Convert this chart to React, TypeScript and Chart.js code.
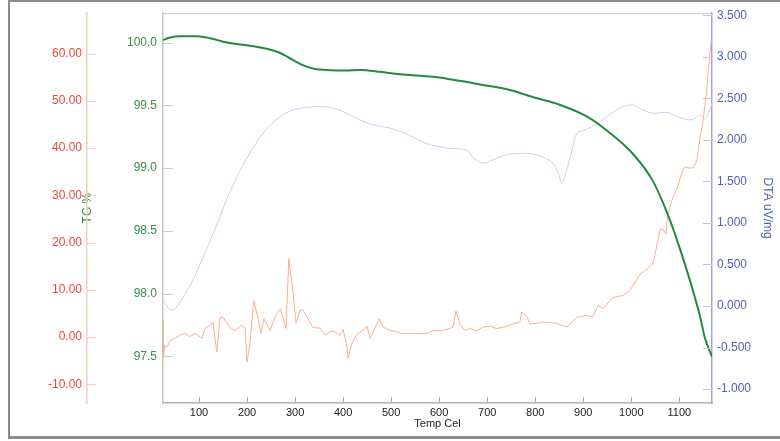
import React, { useEffect, useRef } from "react";
import { Chart, registerables } from "chart.js";

Chart.register(...registerables);

const FONT = '"Liberation Sans", Arial, sans-serif';

// Tick labels
const xTicks = [100, 200, 300, 400, 500, 600, 700, 800, 900, 1000, 1100];
const tgTicks = [97.5, 98.0, 98.5, 99.0, 99.5, 100.0];
const redTicks = [-10, 0, 10, 20, 30, 40, 50, 60];
const dtaTicks = [-1.0, -0.5, 0.0, 0.5, 1.0, 1.5, 2.0, 2.5, 3.0, 3.5];

// TG % (green, left inner axis)
const tgTemp = [25, 40, 60, 96, 123, 158, 196, 233, 269, 296, 316, 341, 366, 404, 435, 477, 518, 587, 643, 685, 747, 800, 852, 908, 956, 1004, 1045, 1081, 1101, 1122, 1143, 1153, 1168];
const tgValues = [100.02, 100.04, 100.05, 100.05, 100.035, 100.0, 99.98, 99.957, 99.917, 99.86, 99.82, 99.79, 99.782, 99.778, 99.782, 99.767, 99.747, 99.727, 99.695, 99.666, 99.622, 99.56, 99.503, 99.41, 99.278, 99.11, 98.896, 98.58, 98.36, 98.105, 97.82, 97.65, 97.496];

// DTA uV/mg (lavender, right axis)
const dtaTemp = [27, 40, 50, 75, 96, 140, 158, 192, 227, 254, 283, 310, 352, 387, 435, 462, 498, 533, 575, 616, 658, 670, 691, 712, 747, 795, 816, 837, 847, 856, 866, 877, 887, 908, 935, 962, 983, 1004, 1024, 1045, 1074, 1095, 1116, 1129, 1143, 1153, 1168];
const dtaValues = [0.06, -0.05, -0.035, 0.18, 0.42, 1.017, 1.29, 1.70, 2.03, 2.21, 2.33, 2.38, 2.40, 2.37, 2.24, 2.18, 2.14, 2.07, 1.95, 1.90, 1.875, 1.79, 1.72, 1.76, 1.83, 1.83, 1.79, 1.72, 1.61, 1.48, 1.65, 1.89, 2.08, 2.13, 2.22, 2.33, 2.40, 2.42, 2.36, 2.32, 2.33, 2.28, 2.245, 2.245, 2.30, 2.25, 2.43];

// Red-axis curve (orange, left outer axis)
const redTemp = [25, 26, 29, 33, 40, 50, 60, 71, 81, 92, 106, 112, 123, 129, 137, 144, 150, 164, 175, 189, 196, 200, 206, 214, 223, 229, 235, 248, 258, 269, 275, 281, 287, 296, 302, 310, 316, 327, 337, 352, 362, 373, 379, 394, 400, 408, 410, 418, 429, 441, 450, 456, 466, 475, 483, 498, 512, 525, 539, 554, 575, 587, 602, 616, 629, 635, 643, 654, 664, 679, 691, 706, 720, 741, 754, 768, 772, 783, 789, 804, 816, 845, 866, 887, 908, 920, 931, 941, 962, 983, 997, 1018, 1033, 1045, 1051, 1060, 1066, 1072, 1076, 1087, 1095, 1106, 1112, 1118, 1129, 1137, 1143, 1149, 1156, 1160, 1166];
const redValues = [3.5, -4.3, -1.7, -2.2, -0.7, -0.3, 0.4, 0.8, 0.1, 0.8, -0.3, 1.8, 2.5, 3.2, -3.2, 4.2, 4.2, 2.1, 1.4, 2.5, 1.8, -5.3, -1.3, 7.7, 3.9, 0.8, 3.9, 1.4, 4.2, 6.0, 4.2, 1.8, 16.6, 9.2, 2.9, 5.6, 5.8, 3.9, 2.0, 1.9, 0.4, 1.1, 1.3, 0.4, 1.6, -2.1, -4.5, -1.4, 0.7, 1.4, 2.3, -0.3, 1.8, 3.9, 2.1, 1.4, 1.1, 0.7, 0.8, 0.7, 0.8, 1.4, 1.3, 1.6, 2.1, 5.5, 2.8, 1.4, 1.8, 1.3, 2.1, 2.3, 1.8, 2.3, 2.8, 3.2, 5.3, 4.2, 2.8, 2.9, 3.2, 2.9, 2.1, 4.2, 4.6, 4.2, 6.7, 6.0, 8.4, 8.8, 9.8, 13.3, 14.4, 15.5, 18.3, 22.8, 22.8, 21.8, 26.0, 29.8, 31.3, 35.1, 36.1, 35.8, 35.8, 37.6, 42.1, 45.6, 51.2, 56.1, 62.5];

const toPoints = (xs: number[], ys: number[]) => xs.map((x, i) => ({ x, y: ys[i] }));

const setTicks = (vals: number[]) => (scale: any) => {
  scale.ticks = vals.map((v) => ({ value: v }));
};

const decorations = {
  id: "decorations",
  afterDraw(chart: any) {
    const { ctx, chartArea: a, scales } = chart;
    ctx.save();
    ctx.lineWidth = 1;
    const seg = (x1: number, y1: number, x2: number, y2: number) => {
      ctx.beginPath();
      ctx.moveTo(x1, y1);
      ctx.lineTo(x2, y2);
      ctx.stroke();
    };
    // top frame line
    ctx.strokeStyle = "#c9c9c9";
    seg(a.left, a.top + 0.5, a.right, a.top + 0.5);
    // x ticks (inward)
    ctx.strokeStyle = "#a8a8a8";
    scales.x.ticks.forEach((t: any) => {
      const px = Math.round(scales.x.getPixelForValue(t.value)) + 0.5;
      seg(px, a.bottom, px, a.bottom - 6);
    });
    // TG ticks (inward)
    ctx.strokeStyle = "#b9d6bd";
    scales.yTG.ticks.forEach((t: any) => {
      const py = Math.round(scales.yTG.getPixelForValue(t.value)) + 0.5;
      seg(a.left, py, a.left + 10, py);
    });
    // red ticks (to the right of its axis line)
    const r = scales.yRed;
    ctx.strokeStyle = "#f8d0c2";
    r.ticks.forEach((t: any) => {
      const py = Math.round(r.getPixelForValue(t.value)) + 0.5;
      seg(r.right, py, r.right + 9, py);
    });
    // DTA ticks (inward)
    ctx.strokeStyle = "#c4c4e4";
    scales.yDTA.ticks.forEach((t: any) => {
      const py = Math.round(scales.yDTA.getPixelForValue(t.value)) + 0.5;
      seg(a.right - 9, py, a.right, py);
    });
    ctx.restore();
  },
};

export default function App() {
  const ref = useRef<HTMLCanvasElement | null>(null);

  useEffect(() => {
    if (!ref.current) return;
    const chart = new Chart(ref.current, {
      type: "line",
      data: {
        datasets: [
          {
            label: "TG",
            data: toPoints(tgTemp, tgValues),
            yAxisID: "yTG",
            borderColor: "#238b3f",
            borderWidth: 2,
            pointRadius: 0,
            tension: 0.4,
            cubicInterpolationMode: "monotone",
          },
          {
            label: "DTA",
            data: toPoints(dtaTemp, dtaValues),
            yAxisID: "yDTA",
            borderColor: "#cdcdef",
            borderWidth: 1,
            pointRadius: 0,
            tension: 0.3,
          },
          {
            label: "Red",
            data: toPoints(redTemp, redValues),
            yAxisID: "yRed",
            borderColor: "#f6b095",
            borderWidth: 1,
            pointRadius: 0,
            tension: 0,
          },
        ],
      },
      options: {
        animation: false,
        responsive: false,
        devicePixelRatio: 1,
        layout: { padding: { left: 8, right: 5, top: 11, bottom: 10 } },
        plugins: { legend: { display: false }, tooltip: { enabled: false } },
        scales: {
          x: {
            type: "linear",
            position: "bottom",
            min: 25,
            max: 1168,
            afterBuildTicks: setTicks(xTicks),
            afterFit: (s: any) => { s.height = 28; },
            grid: { display: false, drawTicks: false },
            border: { display: true, color: "#b4b4b4", width: 1.5 },
            ticks: { color: "#222", font: { family: FONT, size: 11 }, padding: 3, maxRotation: 0, autoSkip: false, callback: (v: any) => String(v) },
            title: { display: true, text: "Temp Cel", color: "#222", font: { family: FONT, size: 11 }, padding: 0 },
          },
          yRed: {
            type: "linear",
            position: "left",
            weight: 1,
            min: -13.96,
            max: 68.57,
            afterBuildTicks: setTicks(redTicks),
            afterFit: (s: any) => { s.width = 79; },
            grid: { display: false, drawTicks: false },
            border: { display: true, color: "#f8cdbd", width: 1.5 },
            ticks: { color: "#ef4738", font: { family: FONT, size: 12 }, padding: 5, autoSkip: false, callback: (v: any) => Number(v).toFixed(2) },
          },
          yTG: {
            type: "linear",
            position: "left",
            weight: 0,
            z: 1,
            min: 97.128,
            max: 100.234,
            afterBuildTicks: setTicks(tgTicks),
            afterFit: (s: any) => { s.width = 76; },
            grid: { display: false, drawTicks: false },
            border: { display: true, color: "#bcc8bc", width: 1.5 },
            ticks: { color: "#3b8c4f", font: { family: FONT, size: 12 }, padding: 6, autoSkip: false, callback: (v: any) => Number(v).toFixed(1) },
            title: { display: true, text: "TG %", color: "#2e8a45", font: { family: FONT, size: 12 }, padding: { top: -7, bottom: 0 } },
          },
          yDTA: {
            type: "linear",
            position: "right",
            min: -1.168,
            max: 3.524,
            afterBuildTicks: setTicks(dtaTicks),
            afterFit: (s: any) => { s.width = 63; },
            grid: { display: false, drawTicks: false },
            border: { display: true, color: "#a4a4d0", width: 1.5 },
            ticks: { color: "#5561b0", font: { family: FONT, size: 12 }, padding: 5, autoSkip: false, callback: (v: any) => Number(v).toFixed(3) },
            title: { display: true, text: "DTA uV/mg", color: "#5561b0", font: { family: FONT, size: 12 }, padding: 0 },
          },
        },
      },
      plugins: [decorations],
    } as any);
    return () => chart.destroy();
  }, []);

  return (
    <div style={{ position: "absolute", left: 0, top: 0, width: 780, height: 441, overflow: "hidden", background: "#fff" }}>
      <div
        style={{
          position: "absolute",
          left: 8,
          top: 0,
          width: 800,
          height: 439,
          boxSizing: "border-box",
          borderLeft: "2px solid #8c8c8c",
          borderTop: "2px solid #8c8c8c",
          borderBottom: "3px solid #8c8c8c",
        }}
      />
      <canvas ref={ref} width={780} height={441} style={{ position: "absolute", left: 0, top: 0, width: 780, height: 441 }} />
    </div>
  );
}
